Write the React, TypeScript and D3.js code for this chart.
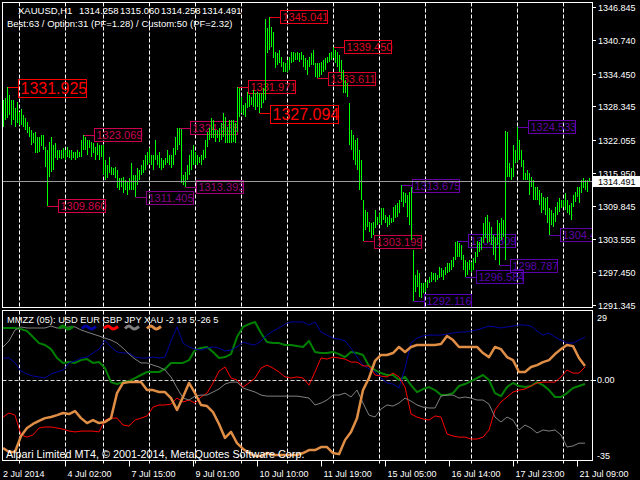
import React from 'react';
import * as d3 from 'd3';

// ---------- main chart data (XAUUSD H1 bars: high / low) ----------
const barHigh: number[] = [
  1329.5, 1329.9, 1331.925, 1330.5, 1329.5, 1329.5, 1328.0, 1329.2, 1327.3, 1327.9,
  1326.7, 1326.2, 1325.4, 1324.5, 1323.9, 1323.4, 1323.6, 1322.6, 1322.6, 1323.0,
  1323.0, 1320.8, 1320.2, 1321.7, 1322.6, 1321.1, 1321.5, 1320.2, 1320.2, 1320.2,
  1320.6, 1320.2, 1320.8, 1320.2, 1320.2, 1319.8, 1319.8, 1320.2, 1319.8, 1322.1,
  1323.069, 1322.6, 1322.1, 1322.1, 1321.7, 1321.5, 1320.8, 1321.5, 1321.1, 1321.1,
  1321.1, 1318.4, 1317.4, 1318.9, 1317.0, 1316.9, 1317.0, 1316.5, 1315.0, 1315.0,
  1315.2, 1314.6, 1314.3, 1315.0, 1317.8, 1315.6, 1315.6, 1316.9, 1316.5, 1317.4,
  1318.4, 1319.3, 1319.8, 1320.6, 1319.3, 1319.3, 1322.1, 1319.3, 1319.8, 1318.7,
  1318.4, 1318.7, 1320.2, 1319.3, 1319.3, 1320.6, 1322.6, 1324.3, 1324.338, 1324.2,
  1315.6, 1316.1, 1317.4, 1319.3, 1320.2, 1321.1, 1319.8, 1319.3, 1318.9, 1319.3,
  1320.2, 1322.1, 1323.6, 1324.3, 1326.2, 1325.8, 1323.9, 1323.9, 1324.3, 1325.2,
  1327.1, 1326.4, 1324.5, 1325.8, 1325.8, 1325.8, 1325.2, 1331.971, 1331.8, 1330.1,
  1328.6, 1329.0, 1331.0, 1330.5, 1330.1, 1331.4, 1330.8, 1331.0, 1330.8, 1330.8,
  1331.8, 1344.6, 1342.9, 1345.041, 1343.1, 1342.2, 1338.5, 1338.3, 1338.8, 1337.5,
  1336.6, 1336.4, 1337.0, 1337.5, 1338.5, 1338.5, 1338.3, 1338.5, 1338.3, 1338.5,
  1337.9, 1337.3, 1337.0, 1337.5, 1338.3, 1338.8, 1336.4, 1336.4, 1336.4, 1336.6,
  1337.0, 1337.3, 1337.5, 1338.3, 1338.5, 1339.45, 1338.8, 1338.5, 1337.9, 1337.0,
  1335.1, 1333.3, 1332.7, 1329.0, 1323.9, 1323.0, 1322.1, 1322.4, 1320.2, 1318.4,
  1310.9, 1309.0, 1308.7, 1306.8, 1306.6, 1306.8, 1309.0, 1307.7, 1308.5, 1309.4,
  1309.4, 1308.1, 1307.7, 1308.1, 1307.6, 1309.6, 1310.0, 1310.3, 1310.9, 1313.675,
  1312.4, 1312.2, 1311.8, 1312.4, 1313.3, 1301.6, 1296.9, 1297.9, 1297.3, 1295.4,
  1295.4, 1295.6, 1296.0, 1296.6, 1297.5, 1297.3, 1297.3, 1296.9, 1298.4, 1298.2,
  1297.9, 1298.4, 1299.2, 1299.2, 1299.7, 1300.3, 1303.1, 1303.309, 1302.9, 1302.5,
  1300.7, 1299.7, 1299.4, 1299.7, 1299.4, 1300.1, 1301.2, 1303.2, 1303.1, 1304.0,
  1306.6, 1307.7, 1308.1, 1306.8, 1305.9, 1304.4, 1304.0, 1307.2, 1306.6, 1307.6,
  1307.2, 1323.8, 1323.6, 1317.8, 1316.9, 1321.1, 1320.2, 1324.533, 1322.1, 1320.2,
  1318.4, 1315.9, 1316.5, 1315.9, 1315.2, 1314.6, 1313.3, 1313.3, 1312.8, 1312.2,
  1311.5, 1311.3, 1311.5, 1309.4, 1309.0, 1308.5, 1309.6, 1310.5, 1311.3, 1310.9,
  1310.9, 1312.2, 1310.9, 1310.0, 1310.3, 1311.8, 1312.4, 1313.3, 1313.3, 1314.6,
  1315.0, 1314.6, 1314.6, 1315.06,
];
const barLow: number[] = [
  1324.5, 1325.8, 1326.2, 1326.7, 1324.9, 1325.8, 1324.5, 1325.2, 1324.9, 1324.9,
  1324.5, 1323.9, 1323.4, 1322.6, 1321.1, 1321.5, 1319.7, 1319.7, 1319.8, 1321.0,
  1320.2, 1317.0, 1309.86, 1315.2, 1316.1, 1316.5, 1318.7, 1318.4, 1318.7, 1318.5,
  1318.7, 1318.4, 1318.9, 1318.7, 1318.4, 1318.7, 1318.4, 1318.7, 1318.9, 1318.9,
  1320.2, 1320.2, 1319.3, 1320.6, 1318.9, 1319.7, 1318.4, 1319.3, 1318.4, 1318.9,
  1315.6, 1314.6, 1315.0, 1315.9, 1315.6, 1315.6, 1315.0, 1313.1, 1312.8, 1313.3,
  1312.2, 1312.8, 1311.8, 1312.8, 1312.8, 1312.8, 1311.405, 1313.7, 1314.6, 1315.6,
  1315.9, 1316.5, 1317.4, 1317.8, 1317.4, 1316.5, 1318.4, 1317.4, 1316.9, 1316.5,
  1316.9, 1317.4, 1317.8, 1317.4, 1316.9, 1317.4, 1319.3, 1320.2, 1321.1, 1314.1,
  1313.7, 1313.393, 1314.6, 1315.6, 1316.5, 1317.4, 1317.4, 1317.4, 1317.8, 1317.4,
  1318.4, 1318.7, 1320.8, 1322.1, 1322.4, 1322.4, 1321.7, 1322.4, 1321.7, 1322.1,
  1322.6, 1321.5, 1321.5, 1321.5, 1321.5, 1321.7, 1321.5, 1323.6, 1326.4, 1327.1,
  1326.7, 1326.4, 1328.0, 1328.2, 1328.6, 1328.2, 1327.7, 1328.2, 1327.094, 1328.0,
  1329.0, 1329.5, 1338.3, 1338.8, 1339.4, 1337.3, 1335.5, 1336.0, 1336.4, 1335.7,
  1334.7, 1334.7, 1334.7, 1335.1, 1336.4, 1336.6, 1337.0, 1337.0, 1336.6, 1337.0,
  1335.7, 1335.1, 1334.2, 1335.7, 1336.0, 1336.0, 1333.8, 1333.611, 1333.8, 1334.2,
  1334.7, 1335.1, 1336.4, 1336.6, 1337.0, 1337.3, 1336.4, 1335.7, 1334.7, 1333.3,
  1330.8, 1330.8, 1330.1, 1321.1, 1320.2, 1318.4, 1317.4, 1316.5, 1312.8, 1310.9,
  1303.199, 1305.3, 1305.9, 1304.9, 1303.8, 1304.4, 1305.7, 1306.2, 1306.6, 1306.2,
  1307.2, 1306.6, 1305.9, 1306.2, 1306.6, 1306.8, 1307.6, 1307.7, 1308.5, 1310.5,
  1309.6, 1310.3, 1307.7, 1306.2, 1303.5, 1292.116, 1293.8, 1294.7, 1292.8, 1292.6,
  1293.6, 1293.8, 1294.5, 1295.4, 1295.6, 1296.0, 1295.6, 1296.0, 1296.4, 1296.6,
  1296.0, 1296.9, 1297.3, 1297.5, 1297.9, 1298.4, 1299.7, 1300.3, 1300.3, 1299.7,
  1297.9, 1296.584, 1296.9, 1297.9, 1297.5, 1297.9, 1299.2, 1300.3, 1301.2, 1301.6,
  1302.9, 1303.8, 1302.9, 1303.1, 1302.5, 1300.7, 1299.7, 1302.5, 1298.787, 1303.5,
  1304.0, 1299.7, 1315.2, 1315.2, 1314.6, 1315.2, 1317.8, 1318.0, 1318.4, 1317.0,
  1314.6, 1314.6, 1314.6, 1311.8, 1313.3, 1310.9, 1310.9, 1310.9, 1310.0, 1308.5,
  1309.0, 1308.1, 1306.6, 1304.447, 1306.2, 1305.9, 1306.8, 1308.1, 1308.7, 1309.4,
  1309.6, 1309.0, 1308.5, 1308.1, 1307.2, 1309.6, 1310.5, 1311.5, 1310.3, 1312.2,
  1313.1, 1312.8, 1312.4, 1314.258,
];

const priceTicks = [1346.845, 1340.740, 1334.450, 1328.345, 1322.055, 1315.950, 1309.845, 1303.555, 1297.450, 1291.345];
const currentPrice = 1314.491;
const headerSymbol = 'XAUUSD,H1';
const headerOHLC = ['1314.258', '1315.060', '1314.258', '1314.491'];
const headerStats = 'Best:63 / Option:31 (PF=1.28) / Custom:50 (PF=2.32)';

// zigzag labels
const zzBars = [2, 22, 40, 66, 88, 91, 117, 128, 133, 157, 165, 180, 199, 205, 227, 231, 248, 257, 273];
const zzPrices = [1331.925, 1309.860, 1323.069, 1311.405, 1324.338, 1313.393, 1331.971, 1327.094, 1345.041, 1333.611, 1339.450, 1303.199, 1313.675, 1292.116, 1303.309, 1296.584, 1298.787, 1324.533, 1304.447];
const zzBig = [true, false, false, false, false, false, false, true, false, false, false, false, false, false, false, false, false, false, false];
const zzColors = ['#ff0000', '#d4004c', '#cc0050', '#880088', '#c0005c', '#a00078', '#e00028', '#ff0000', '#e8001c', '#d8002c', '#e40020', '#c40048', '#6a00a4', '#5a00b4', '#5c00b0', '#5800b0', '#5c00ac', '#6400a8', '#6400a8'];

// grid & time axis
const gridBars = [8, 31, 50, 73, 96, 119, 142, 165, 188, 211, 234, 257, 280];
const timeBars = [0, 31, 63, 95, 127, 159, 191, 223, 255, 287];
const timeLabels = ['2 Jul 2014', '4 Jul 02:00', '7 Jul 15:00', '9 Jul 01:00', '10 Jul 10:00', '11 Jul 19:00', '15 Jul 05:00', '16 Jul 14:00', '17 Jul 23:00', '21 Jul 09:00'];

// ---------- indicator (MMZZ) data, one value every 3 bars ----------
const indStep = 3;
const usd = [23.9, 23.9, 23.9, 23.4, 22.5, 19.7, 16.9, 16.0, 14.1, 10.0, 7.7, 8.1, 7.7, 9.0, 9.5, 7.7, 8.1, 5.3, -1.2, -2.1,
  -1.2, -0.7, 0.7, 2.1, 3.5, 3.5, 3.5, 4.9, 7.7, 7.7, 7.7, 9.0, 13.7, 14.6, 15.1, 12.8, 10.0, 10.4, 11.8, 19.7,
  24.4, 25.7, 26.7, 21.6, 17.4, 16.9, 16.9, 16.0, 16.0, 15.5, 15.1, 17.9, 12.8, 12.3, 12.3, 12.8, 11.8, 10.4, 12.8, 12.3,
  11.4, 6.3, 4.4, 3.0, 2.1, 2.1, -0.2, 1.2, -2.6, -5.8, -4.4, -3.5, -4.9, -7.2, -7.2, -6.3, -3.0, -2.1, -0.7, 0.7,
  2.1, -0.2, -6.3, -7.7, -3.5, -1.6, -3.0, -3.5, -3.0, -1.2, -2.6, -4.9, -8.1, -8.1, -6.3, -3.9, -3.0, -2.1];
const eur = [10.0, 10.0, 7.7, 3.9, 2.6, 1.6, 1.2, 0.7, 2.6, 3.5, 4.4, 7.7, 8.6, 10.0, 10.4, 12.3, 14.1, 18.3, 15.1, 12.8,
  12.3, 12.3, 10.4, 10.0, 10.0, 10.4, 10.0, 10.4, 17.9, 24.4, 16.9, 15.1, 14.1, 13.7, 14.6, 15.1, 14.6, 13.2, 13.7, 15.1,
  17.4, 16.5, 16.0, 17.9, 20.6, 22.5, 23.9, 25.7, 26.7, 26.7, 26.7, 25.3, 26.7, 22.0, 20.6, 19.2, 18.8, 17.9, 14.6, 10.4,
  6.7, 4.9, 3.5, 0.7, -1.6, -2.1, -3.9, 5.3, 16.9, 19.2, 20.2, 20.6, 20.6, 20.6, 21.1, 21.6, 22.0, 22.0, 22.5, 23.0,
  23.9, 24.8, 24.4, 23.9, 24.4, 24.8, 25.3, 25.3, 24.8, 22.5, 20.6, 21.6, 19.7, 18.3, 16.9, 16.9, 18.3, 19.7];
const gbp = [-17.4, -15.5, -16.5, -25.7, -26.7, -25.7, -22.5, -22.0, -22.0, -22.5, -23.0, -23.9, -24.3, -23.9, -23.9, -23.9, -24.3, -18.8, -17.9, -17.9,
  -21.1, -21.6, -18.8, -17.9, -16.9, -12.8, -11.8, -11.8, -11.4, -8.6, -10.4, -9.5, -10.9, -8.1, -6.3, -1.6, 3.9, 5.8, 0.7, -0.2,
  -3.5, -1.6, 0.7, 5.3, 6.7, 5.3, 3.5, 1.2, 0.7, 1.2, 0.7, -2.6, 3.5, 10.0, 9.5, 10.4, 10.0, 9.5, 8.1, 8.1,
  6.3, 6.3, 2.1, 1.6, 1.2, 3.0, 1.2, -3.5, -16.0, -17.4, -18.3, -18.8, -16.9, -17.4, -25.3, -26.2, -26.7, -26.7, -27.6, -27.6,
  -26.7, -23.4, -14.1, -10.4, -8.1, -5.8, -4.9, -4.4, -3.0, -1.6, -1.2, -1.2, -1.2, 1.2, 4.4, 3.0, 3.0, 5.8];
const jpy = [15.1, 17.9, 23.0, 24.4, 23.9, 23.9, 23.9, 23.9, 24.8, 23.9, 23.9, 24.4, 24.4, 23.0, 22.0, 21.1, 20.2, 19.2, 18.3, 16.9,
  14.6, 11.8, 9.5, 7.7, 7.7, 6.7, 5.8, 4.4, 1.2, -3.9, -8.6, -9.5, -7.7, -7.2, -7.2, -5.8, -4.4, -2.1, -1.2, -1.2,
  -3.9, -4.9, -5.8, -7.2, -7.7, -7.7, -7.7, -7.7, -7.7, -7.7, -8.1, -8.6, -11.8, -10.9, -9.5, -7.2, -7.2, -6.3, -8.1, -4.9,
  -10.9, -16.5, -17.4, -13.7, -11.8, -12.3, -10.9, -8.6, -10.0, -11.8, -12.8, -13.2, -13.2, -7.7, -7.2, -7.2, -8.6, -8.1, -8.6, -9.5,
  -9.5, -11.4, -17.4, -19.7, -17.4, -18.8, -23.4, -21.1, -22.5, -24.8, -23.4, -23.9, -23.4, -25.7, -31.3, -30.8, -29.5, -29.5];
const xau = [-31.8, -33.6, -33.6, -26.2, -22.5, -20.6, -19.2, -17.9, -17.4, -16.5, -15.5, -16.0, -14.6, -17.9, -20.2, -18.8, -20.2, -19.7, -17.9, -6.3,
  -1.6, -1.2, -1.2, -1.2, -4.9, -4.9, -5.8, -5.8, -8.6, -14.1, -8.1, -1.6, -6.3, -11.8, -12.3, -15.1, -20.6, -27.1, -24.3, -29.5,
  -32.2, -34.1, -35.5, -35.5, -34.1, -35.0, -35.0, -35.0, -35.0, -35.0, -34.1, -32.7, -32.7, -31.3, -31.3, -34.1, -34.6, -28.1, -24.3, -17.9,
  -4.9, 0.7, 8.6, 11.4, 11.4, 12.3, 15.1, 12.8, 15.1, 16.0, 16.0, 16.0, 16.0, 16.5, 20.2, 18.3, 15.1, 15.1, 15.1, 15.1,
  12.3, 10.4, 15.1, 14.1, 10.4, 9.0, 3.5, 3.5, 5.8, 6.7, 8.1, 9.0, 11.8, 14.1, 16.0, 15.5, 10.0, 6.3];
const indNames = ['USD', 'EUR', 'GBP', 'JPY', 'XAU'];
const indColors = ['#008000', '#0000a0', '#ff0000', '#808080', '#e08e45'];
const indTitle = 'MMZZ (05):';
const indCurrent = '-2 18 5 -26 5';
const indTicks = [29, 0, -35];
const indTickLabels = ['29', '0.00', '-35'];
const footer = 'Alpari Limited MT4, \u00a9 2001-2014, MetaQuotes Software Corp.';

export default function App() {
  const series = [usd, eur, gbp, jpy, xau];
  const widths = [2, 1, 1, 1, 2.5];
  const font = "'Liberation Sans', Arial, sans-serif";

  const x = d3.scaleLinear().domain([0, barHigh.length - 1]).range([3, 589]);
  const y = d3.scaleLinear().domain([1291.345, 1346.845]).range([305, 7]);
  const yi = d3.scaleLinear().domain([-35, 29]).range([455, 317]);
  const px = (i: number) => Math.round(x(i)) + 0.5;

  const line = d3
    .line<number>()
    .x((_, k) => x(k * indStep))
    .y((v) => yi(v));

  const wave = d3
    .line<[number, number]>()
    .x((d) => d[0])
    .y((d) => d[1])
    .curve(d3.curveCardinal);
  const swatchX = [59, 82, 104, 125, 147];

  const mainTop = 2.5, mainBottom = 307.5, indTop = 310.5, indBottom = 460.5, left = 2.5, right = 592.5;
  const cpY = Math.round(y(currentPrice)) + 0.5;

  return (
    <svg
      width={640}
      height={480}
      style={{ position: 'absolute', left: 0, top: 0, display: 'block' }}
      fontFamily={font}
    >
      <defs>
        <clipPath id="mainClip">
          <rect x={3} y={3} width={589} height={304} />
        </clipPath>
        <clipPath id="indClip">
          <rect x={3} y={311} width={589} height={149} />
        </clipPath>
      </defs>
      <rect width={640} height={480} fill="#000" />

      {/* vertical grid */}
      {gridBars.map((b, k) => (
        <g key={'g' + k} stroke="#ffffff" strokeWidth={1} strokeDasharray="4,2">
          <line x1={px(b)} x2={px(b)} y1={mainTop} y2={mainBottom} />
          <line x1={px(b)} x2={px(b)} y1={indTop} y2={indBottom} />
        </g>
      ))}

      {/* main chart */}
      <g clipPath="url(#mainClip)">
        {zzBars.map((b, k) => {
          const cy = y(zzPrices[k]);
          const big = zzBig[k];
          const bx = Math.round(x(b)) + 11;
          const w = big ? 68 : 47;
          const h = big ? 18 : 13;
          const top = Math.round(cy - (big ? 8.5 : 6.5)) + 0.5;
          const c = zzColors[k];
          return (
            <g key={'zz' + k}>
              <line x1={px(b)} x2={bx} y1={Math.round(cy) + 0.5} y2={Math.round(cy) + 0.5} stroke={c} />
              <rect x={bx + 0.5} y={top} width={w} height={h} fill="none" stroke={c} />
              <text x={bx + 2.5} y={top + (big ? 14.5 : 10.5)} fill={c} fontSize={big ? 16 : 11}>
                {zzPrices[k].toFixed(3)}
              </text>
            </g>
          );
        })}
        <g stroke="#00ff00" strokeWidth={1} shapeRendering="crispEdges">
          {barHigh.map((hi, i) => {
            const y1 = Math.round(y(hi));
            const y2 = Math.max(Math.round(y(barLow[i])), y1 + 1);
            return <line key={'b' + i} x1={px(i)} x2={px(i)} y1={y1} y2={y2} />;
          })}
        </g>
        <line x1={left} x2={right} y1={cpY} y2={cpY} stroke="#9a9a9a" />
      </g>

      {/* header */}
      <g fill="#ffffff" fontSize={9.5}>
        <text x={18} y={14}>{headerSymbol}</text>
        {headerOHLC.map((t, k) => (
          <text key={'h' + k} x={79 + k * 41} y={14}>{t}</text>
        ))}
        <text x={7} y={27}>{headerStats}</text>
      </g>

      {/* price axis */}
      <g fill="#ffffff" fontSize={9}>
        {priceTicks.map((p, k) => {
          const ty = Math.round(y(p)) + 0.5;
          return (
            <g key={'pt' + k}>
              <line x1={592} x2={596} y1={ty} y2={ty} stroke="#ffffff" />
              <text x={598} y={ty + 3.5}>{p.toFixed(3)}</text>
            </g>
          );
        })}
        <rect x={593} y={cpY - 5.5} width={47} height={11} fill="#ffffff" />
        <text x={598} y={cpY + 3.5} fill="#000000">{currentPrice.toFixed(3)}</text>
      </g>

      {/* indicator panel */}
      <line x1={left} x2={right} y1={Math.round(yi(0)) + 0.5} y2={Math.round(yi(0)) + 0.5} stroke="#d8d8d8" strokeDasharray="4,2" />
      <g clipPath="url(#indClip)" fill="none" strokeLinejoin="round">
        {series.map((s, k) => (
          <path key={'s' + k} d={line(s) || ''} stroke={indColors[k]} strokeWidth={widths[k]} />
        ))}
      </g>
      <text x={7} y={323} fill="#ffffff" fontSize={9.3}>
        {indTitle + ' ' + indNames.join(' ') + ' ' + indCurrent}
      </text>
      {swatchX.map((sx, k) => (
        <path
          key={'sw' + k}
          d={wave([[sx, 328.5], [sx + 4, 326], [sx + 9, 329], [sx + 14, 326.5]]) || ''}
          fill="none"
          stroke={indColors[k]}
          strokeWidth={3}
        />
      ))}
      <g fill="#ffffff" fontSize={9}>
        {indTicks.map((v, k) => (
          <text key={'it' + k} x={597} y={yi(v) + 3.5}>{indTickLabels[k]}</text>
        ))}
        <line x1={592} x2={596} y1={Math.round(yi(0)) + 0.5} y2={Math.round(yi(0)) + 0.5} stroke="#ffffff" />
      </g>
      <text x={6} y={458} fill="#ffffff" fontSize={10.8}>{footer}</text>

      {/* frames */}
      <g fill="none" stroke="#ffffff" strokeWidth={1}>
        <rect x={left} y={mainTop} width={right - left} height={mainBottom - mainTop} />
        <rect x={left} y={indTop} width={right - left} height={indBottom - indTop} />
      </g>

      {/* time axis */}
      <g fill="#ffffff" fontSize={9}>
        {gridBars.map((b, k) => (
          <line key={'gt' + k} x1={px(b)} x2={px(b)} y1={indBottom} y2={indBottom + 3} stroke="#ffffff" />
        ))}
        {timeBars.map((b, k) => (
          <g key={'t' + k}>
            {k > 0 && <line x1={px(b)} x2={px(b)} y1={indBottom} y2={indBottom + 6} stroke="#ffffff" />}
            <text x={k === 0 ? 3 : px(b) + 2} y={477}>{timeLabels[k]}</text>
          </g>
        ))}
      </g>
    </svg>
  );
}
